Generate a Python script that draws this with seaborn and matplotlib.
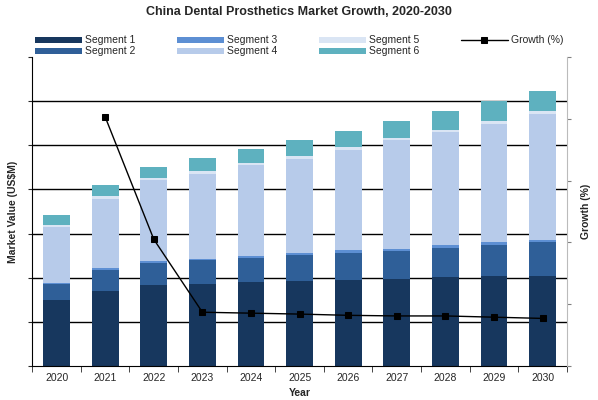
import numpy as np
import pandas as pd
import matplotlib
matplotlib.use("Agg")
import matplotlib.pyplot as plt
import seaborn as sns

years = ["2020","2021","2022","2023","2024","2025","2026","2027","2028","2029","2030"]
seg1 = [1.49,1.69,1.83,1.85,1.90,1.92,1.94,1.96,2.01,2.03,2.05]
seg2 = [0.36,0.48,0.50,0.54,0.55,0.60,0.63,0.65,0.67,0.72,0.76]
seg3 = [0.03,0.04,0.04,0.04,0.05,0.05,0.05,0.05,0.05,0.05,0.05]
seg4 = [1.28,1.58,1.85,1.93,2.05,2.13,2.28,2.46,2.56,2.69,2.85]
seg5 = [0.04,0.05,0.05,0.05,0.05,0.05,0.05,0.05,0.05,0.06,0.06]
seg6 = [0.23,0.27,0.24,0.31,0.32,0.37,0.38,0.38,0.44,0.45,0.46]
growth_years = ["2021","2022","2023","2024","2025","2026","2027","2028","2029","2030"]
growth = [4.03,2.05,0.87,0.855,0.84,0.82,0.81,0.81,0.79,0.77]

segs = [seg1,seg2,seg3,seg4,seg5,seg6]
names = ["Segment 1","Segment 2","Segment 3","Segment 4","Segment 5","Segment 6"]
colors = ["#17375e","#2f5f98","#5d8fd3","#b7cbea","#dae5f4","#5eb1bf"]

sns.set_style("white")
plt.rcParams['font.family'] = ['Liberation Sans', 'DejaVu Sans']
fig = plt.figure(figsize=(5.98,4), dpi=100)
ax = fig.add_axes([0.054,0.085,0.894,0.7725])
bottom = np.zeros(len(years))
for s,n,c in zip(segs,names,colors):
    df = pd.DataFrame({"Year":years,"v":s})
    sns.barplot(data=df,x="Year",y="v",color=c,bottom=bottom,width=0.55,ax=ax,label=n,saturation=1,linewidth=0)
    bottom += np.array(s)
ax.set_ylim(0,7)
ax.set_xlim(-0.5,10.5)
ax.set_yticks(range(8))
ax.set_yticklabels([])
for y in range(1,7):
    ax.axhline(y,color="black",lw=1,zorder=0)
ax.tick_params(axis="y",length=3,direction="out",left=True)
ax.set_xticks(range(11))
ax.set_xticklabels(years,fontsize=7.5)
ax.set_xticks(np.arange(-0.5,11,1),minor=True)
ax.tick_params(axis="x",which="major",length=0,pad=5)
ax.tick_params(axis="x",which="minor",length=4,bottom=True)
ax.set_xlabel("Year",fontsize=7.5,fontweight="bold")
ax.set_ylabel("Market Value (US$M)",fontsize=7.5,fontweight="bold")
for sp in ["top","right"]:
    ax.spines[sp].set_visible(False)
for sp in ["left","bottom"]:
    ax.spines[sp].set_color("black")

ax2 = ax.twinx()
gx = [years.index(y) for y in growth_years]
sns.lineplot(x=gx,y=growth,ax=ax2,color="black",marker="s",markersize=5,lw=1,label="Growth (%)",markeredgecolor="black")
ax2.set_ylim(0,5)
ax2.set_yticks(range(6))
ax2.set_yticklabels([])
ax2.tick_params(axis="y",length=3,right=True,colors="gray")
ax2.set_ylabel("Growth (%)",fontsize=7.5,fontweight="bold")
for sp in ["top","left","bottom"]:
    ax2.spines[sp].set_visible(False)
ax2.spines["right"].set_color("#bbbbbb")
h1,l1 = ax.get_legend_handles_labels()
h2,l2 = ax2.get_legend_handles_labels()
ax.legend_ = None
ax2.legend_.remove()
fig.legend(h1+h2,l1+l2,ncol=4,loc="upper center",bbox_to_anchor=(0.5,0.935),frameon=False,fontsize=7.5,
           handlelength=4.5,handleheight=0.5,columnspacing=4,labelspacing=0.1,handletextpad=0.3)
fig.suptitle("China Dental Prosthetics Market Growth, 2020-2030",fontsize=9,fontweight="bold",y=0.985)
fig.savefig("out.png",dpi=100)
